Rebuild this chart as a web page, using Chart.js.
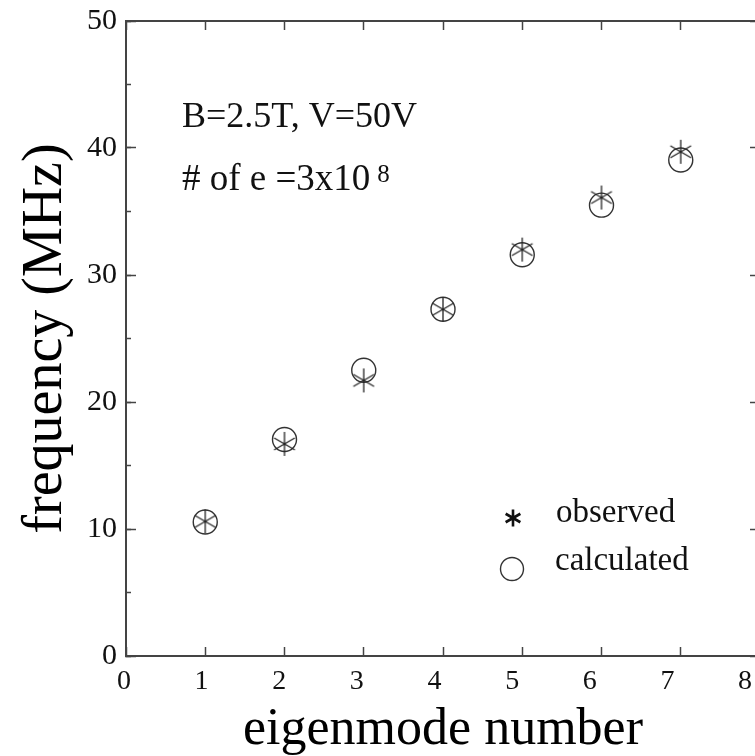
<!DOCTYPE html>
<html><head><meta charset="utf-8">
<script src="https://cdn.jsdelivr.net/npm/chart.js@4/dist/chart.umd.min.js"></script>
<style>
html,body{margin:0;padding:0;background:#fff;overflow:hidden;}
#wrap{position:relative;width:762px;height:756px;}
</style></head><body>
<div id="wrap"><canvas id="c" width="762" height="756"></canvas></div>
<script>
// ---- data ----
const modes = [1, 2, 3, 4, 5, 6, 7];
const observed = [10.6, 16.7, 21.7, 27.3, 32.0, 36.1, 39.7];
const calculated = [10.55, 17.05, 22.5, 27.3, 31.6, 35.5, 39.05];
const xTicks = [0, 1, 2, 3, 4, 5, 6, 7, 8];
const yTicks = [0, 10, 20, 30, 40, 50];
const yMinorTicks = [0, 5, 10, 15, 20, 25, 30, 35, 40, 45, 50];
const xTitle = 'eigenmode number';
const yTitle = 'frequency (MHz)';
const seriesNames = ['observed', 'calculated'];
const noteLine1 = 'B=2.5T, V=50V';
const noteLine2 = '# of e =3x10';
const noteSup = '8';

// ---- styles ----
const FONT = "'Liberation Serif', 'Times New Roman', serif";
const axisColor = '#444';
const markColor = '#222';

function asteriskCanvas(r, lw, color) {
  const s = Math.ceil(2 * r + lw + 2);
  const c = document.createElement('canvas');
  c.width = s; c.height = s;
  const g = c.getContext('2d');
  g.strokeStyle = color; g.lineWidth = lw;
  const cx = s / 2, cy = s / 2;
  g.beginPath();
  for (const a of [90, 30, 150]) {
    const t = a * Math.PI / 180;
    g.moveTo(cx + r * Math.cos(t), cy - r * Math.sin(t));
    g.lineTo(cx - r * Math.cos(t), cy + r * Math.sin(t));
  }
  g.stroke();
  return c;
}
const starMark = asteriskCanvas(12, 1.3, markColor);
const starLegend = asteriskCanvas(8.5, 2.6, '#111');

function fixW(w) { return s => { s.width = w; s.paddingLeft = s.paddingRight = s.paddingTop = s.paddingBottom = 0; }; }
function fixH(h) { return s => { s.height = h; s.paddingLeft = s.paddingRight = s.paddingTop = s.paddingBottom = 0; }; }
function setTicks(list) { return s => { s.ticks = list.map(v => ({ value: v })); }; }

const border = { color: axisColor, width: 2 };

const overlay = {
  id: 'overlay',
  afterDraw(chart) {
    const ctx = chart.ctx;
    ctx.save();
    ctx.fillStyle = '#111';
    ctx.textBaseline = 'alphabetic';
    ctx.textAlign = 'left';
    // annotation
    ctx.font = '36px ' + FONT;
    ctx.fillText(noteLine1, 182, 127);
    ctx.font = '37px ' + FONT;
    ctx.fillText(noteLine2, 182, 190);
    const w = ctx.measureText(noteLine2).width;
    ctx.font = '25px ' + FONT;
    ctx.fillText(noteSup, 182 + w + 7, 182);
    // legend
    ctx.font = '33px ' + FONT;
    ctx.fillText(chart.data.datasets[0].label, 556, 522);
    ctx.fillText(chart.data.datasets[1].label, 555, 570);
    ctx.drawImage(starLegend, 513 - starLegend.width / 2, 518 - starLegend.height / 2);
    ctx.strokeStyle = '#333'; ctx.lineWidth = 1.4;
    ctx.beginPath(); ctx.arc(512, 569, 11.5, 0, Math.PI * 2); ctx.stroke();
    ctx.restore();
  }
};

Chart.defaults.font.family = FONT;

new Chart(document.getElementById('c'), {
  type: 'scatter',
  data: {
    datasets: [
      { label: seriesNames[0], data: modes.map((m, i) => ({ x: m, y: observed[i] })),
        pointStyle: starMark, pointRadius: 12, showLine: false },
      { label: seriesNames[1], data: modes.map((m, i) => ({ x: m, y: calculated[i] })),
        pointStyle: 'circle', pointRadius: 12, borderColor: '#333', borderWidth: 1.4,
        backgroundColor: 'rgba(0,0,0,0)', showLine: false }
    ]
  },
  options: {
    responsive: false, animation: false, devicePixelRatio: 1,
    layout: { autoPadding: false, padding: { left: 0, right: 2, top: 21, bottom: 0 } },
    plugins: { legend: { display: false }, tooltip: { enabled: false } },
    scales: {
      x: {
        type: 'linear', position: 'bottom', min: 0, max: 8, weight: 0,
        afterBuildTicks: setTicks(xTicks),
        ticks: { display: false },
        grid: { drawOnChartArea: false, tickLength: -9, tickColor: axisColor, tickWidth: 1.5 },
        border,
        afterFit: fixH(0)
      },
      // tick-label row of the original figure (its labels sit slightly left of the tick marks)
      xLabels: {
        type: 'linear', position: 'bottom', min: 0.026, max: 8.193, weight: 1,
        afterBuildTicks: setTicks(xTicks),
        ticks: { font: { size: 28 }, color: '#111', padding: 9, maxRotation: 0, autoSkip: false },
        grid: { display: false, drawTicks: false },
        border: { display: false },
        title: { display: true, text: xTitle, color: '#000', font: { size: 52, lineHeight: 1 }, padding: { top: 0, bottom: 0 } },
        afterFit: fixH(100)
      },
      xTop: {
        type: 'linear', position: 'top', min: 0, max: 8,
        afterBuildTicks: setTicks(xTicks),
        ticks: { display: false },
        grid: { drawOnChartArea: false, tickLength: -9, tickColor: axisColor, tickWidth: 1.5 },
        border,
        afterFit: fixH(0)
      },
      y: {
        type: 'linear', position: 'left', min: 0, max: 50, weight: 1,
        afterBuildTicks: setTicks(yTicks),
        ticks: { font: { size: 30 }, color: '#111', padding: 19 },
        grid: { drawOnChartArea: false, tickLength: -10, tickColor: axisColor, tickWidth: 1.5 },
        border,
        title: { display: true, text: yTitle, color: '#000', font: { size: 56, lineHeight: 1 }, padding: { top: 18, bottom: 0 } },
        afterFit: fixW(126)
      },
      yMinor: {
        type: 'linear', position: 'left', min: 0, max: 50, weight: 0,
        afterBuildTicks: setTicks(yMinorTicks),
        ticks: { display: false },
        grid: { drawOnChartArea: false, tickLength: -5, tickColor: axisColor, tickWidth: 1.5 },
        border: { display: false },
        afterFit: fixW(0)
      },
      yRight: {
        type: 'linear', position: 'right', min: 0, max: 50, weight: 1,
        afterBuildTicks: setTicks(yTicks),
        ticks: { display: false },
        grid: { drawOnChartArea: false, tickLength: -10, tickColor: axisColor, tickWidth: 1.5 },
        border,
        afterFit: fixW(0)
      },
      yRightMinor: {
        type: 'linear', position: 'right', min: 0, max: 50, weight: 0,
        afterBuildTicks: setTicks(yMinorTicks),
        ticks: { display: false },
        grid: { drawOnChartArea: false, tickLength: -5, tickColor: axisColor, tickWidth: 1.5 },
        border: { display: false },
        afterFit: fixW(0)
      }
    }
  },
  plugins: [overlay]
});
</script>
</body></html>
